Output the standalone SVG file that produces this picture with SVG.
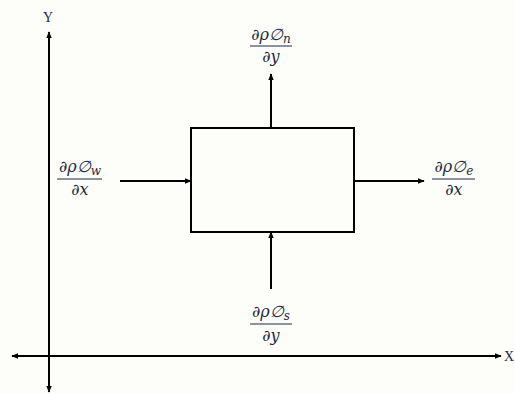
<svg xmlns="http://www.w3.org/2000/svg" width="515" height="394" viewBox="0 0 515 394">
<defs>
<marker id="ah" viewBox="0 0 10 10" refX="9" refY="5" markerWidth="7" markerHeight="7" orient="auto-start-reverse" markerUnits="userSpaceOnUse">
<path d="M0,1 L10,5 L0,9 z" fill="#000"/>
</marker>
<style>
.ln{stroke:#000;stroke-width:2;fill:none}
.m{font-family:"DejaVu Serif","Liberation Serif",serif;font-style:italic;font-size:16px;fill:#1f2a44;text-anchor:middle}
.ax{font-family:"Liberation Serif",serif;font-size:14px;fill:#1f2a44}
.fr{stroke:#1f2a44;stroke-width:1}
</style>
</defs>
<rect width="515" height="394" fill="#fdfdf9"/>
<g id="connectors">
<line class="ln" x1="49" y1="392" x2="49" y2="32" marker-end="url(#ah)" marker-start="url(#ah)"/>
<line class="ln" x1="12" y1="356" x2="501" y2="356" marker-end="url(#ah)" marker-start="url(#ah)"/>
<line class="ln" x1="271" y1="128" x2="271" y2="74" marker-end="url(#ah)"/>
<line class="ln" x1="120" y1="181" x2="191" y2="181" marker-end="url(#ah)"/>
<line class="ln" x1="354" y1="181" x2="424" y2="181" marker-end="url(#ah)"/>
<line class="ln" x1="271" y1="289" x2="271" y2="232" marker-end="url(#ah)"/>
</g>
<g id="axis-y-label"><text class="ax" x="43" y="22">Y</text></g>
<g id="axis-x-label"><text class="ax" x="504" y="361">X</text></g>
<g id="control-volume"><rect x="191" y="128" width="163" height="104" class="ln"/></g>
<g id="flux-n">
<text class="m" x="271" y="40">∂ρ∅<tspan font-size="12" dy="3">n</tspan></text>
<line class="fr" x1="250" y1="46" x2="292" y2="46"/>
<text class="m" x="271" y="62">∂y</text>
</g>
<g id="flux-w">
<text class="m" x="80" y="172">∂ρ∅<tspan font-size="12" dy="3">w</tspan></text>
<line class="fr" x1="57" y1="179" x2="102" y2="179"/>
<text class="m" x="80" y="195">∂x</text>
</g>
<g id="flux-e">
<text class="m" x="454" y="172">∂ρ∅<tspan font-size="12" dy="3">e</tspan></text>
<line class="fr" x1="432" y1="179" x2="475" y2="179"/>
<text class="m" x="454" y="195">∂x</text>
</g>
<g id="flux-s">
<text class="m" x="271" y="317">∂ρ∅<tspan font-size="12" dy="3">s</tspan></text>
<line class="fr" x1="250" y1="324" x2="292" y2="324"/>
<text class="m" x="271" y="341">∂y</text>
</g>
</svg>
